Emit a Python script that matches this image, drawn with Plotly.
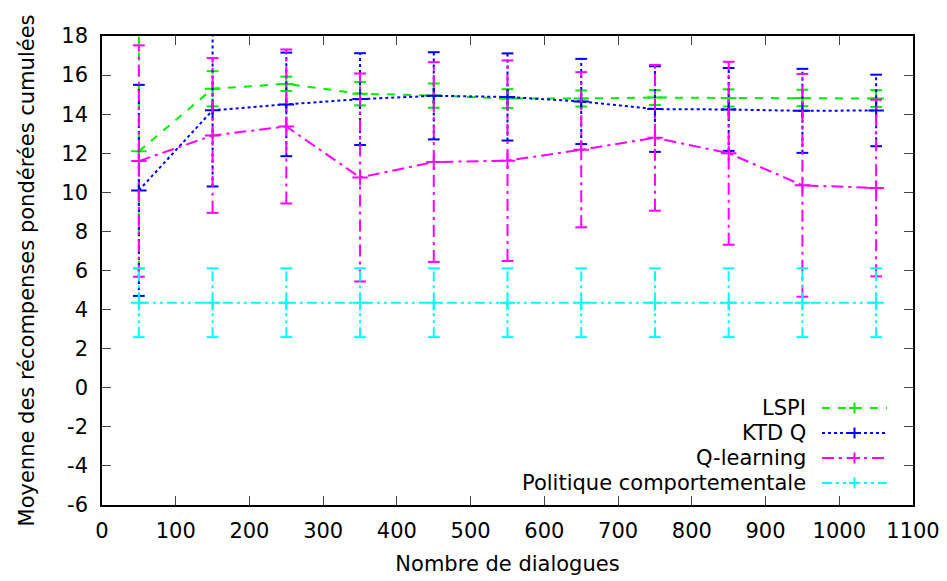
import plotly.graph_objects as go

# ---- data ----
x_dialogues = [50, 150, 250, 350, 450, 550, 650, 750, 850, 950, 1050]

lspi_mean = [12.1, 15.3, 15.55, 15.05, 14.95, 14.8, 14.8, 14.85, 14.83, 14.83, 14.8]
lspi_err = [6.0, 0.9, 0.37, 0.6, 0.62, 0.48, 0.41, 0.38, 0.44, 0.42, 0.43]

ktd_mean = [10.1, 14.2, 14.5, 14.77, 14.94, 14.88, 14.65, 14.26, 14.24, 14.17, 14.19]
ktd_err = [5.4, 3.9, 2.65, 2.35, 2.23, 2.23, 2.18, 2.19, 2.12, 2.15, 1.83]

ql_mean = [11.6, 12.91, 13.37, 10.76, 11.55, 11.62, 12.18, 12.79, 12.0, 10.36, 10.22]
ql_err = [5.92, 3.96, 3.94, 5.32, 5.11, 5.13, 3.97, 3.73, 4.68, 5.7, 4.52]

pol_mean = [4.35] * 11
pol_err = [1.76] * 11

series_names = ["LSPI", "KTD Q", "Q-learning", "Politique comportementale"]
series_means = [lspi_mean, ktd_mean, ql_mean, pol_mean]
series_errs = [lspi_err, ktd_err, ql_err, pol_err]
series_colors = ["#00ee00", "#0000ff", "#ff00ff", "#00ffff"]
series_dash = ["8px,8px", "3px,3px", "12px,5px,3px,5px", "10px,4px,3px,4px,3px,4px"]

x_ticks = list(range(0, 1101, 100))
x_tick_labels = [str(v) for v in x_ticks]
y_ticks = list(range(-6, 19, 2))
y_tick_labels = ["-6", "-4", "-2", "0", "2", "4", "6", "8", "10", "12", "14", "16", "18"]

FONT = "DejaVu Sans"
FS = 21
CAP = 8  # cap half-width in x units

fig = go.Figure()

for name, m, e, c, d in zip(series_names, series_means, series_errs, series_colors, series_dash):
    vx, vy, cx, cy = [], [], [], []
    for xi, mi, ei in zip(x_dialogues, m, e):
        lo, hi = mi - ei, mi + ei
        vx += [xi, xi, None]
        vy += [lo, hi, None]
        cx += [xi - CAP, xi + CAP, None, xi - CAP, xi + CAP, None]
        cy += [lo, lo, None, hi, hi, None]
    fig.add_trace(go.Scatter(x=vx, y=vy, mode="lines", line=dict(color=c, width=2, dash=d),
                             showlegend=False, hoverinfo="skip"))
    fig.add_trace(go.Scatter(x=cx, y=cy, mode="lines", line=dict(color=c, width=2),
                             showlegend=False, hoverinfo="skip"))
    fig.add_trace(go.Scatter(x=x_dialogues, y=m, mode="lines+markers", name=name,
                             line=dict(color=c, width=2, dash=d),
                             marker=dict(symbol="cross-thin", size=11,
                                         line=dict(color=c, width=2)),
                             showlegend=False))

# ---- manual legend (text left of sample, like gnuplot) ----
L, R, T, B = 102, 913, 36, 505
def px(xp):
    return (xp - L) / (R - L)
def py(yp):
    return (B - yp) / (B - T)

leg_rows = [408, 433, 458, 483]
shapes = []
annotations = []
for name, c, d, yr in zip(series_names, series_colors, series_dash, leg_rows):
    annotations.append(dict(x=px(808), y=py(yr), xref="paper", yref="paper", text=name,
                            showarrow=False, xanchor="right", yanchor="middle",
                            font=dict(family=FONT, size=FS, color="black")))
    shapes.append(dict(type="line", xref="paper", yref="paper", x0=px(822), x1=px(887),
                       y0=py(yr), y1=py(yr), line=dict(color=c, width=2, dash=d)))
    shapes.append(dict(type="line", xref="paper", yref="paper", x0=px(849), x1=px(860),
                       y0=py(yr), y1=py(yr), line=dict(color=c, width=2)))
    shapes.append(dict(type="line", xref="paper", yref="paper", x0=px(854.5), x1=px(854.5),
                       y0=py(yr - 5.5), y1=py(yr + 5.5), line=dict(color=c, width=2)))

axis_common = dict(showgrid=False, zeroline=False, showline=True, linecolor="black",
                   linewidth=1.5, mirror="allticks", ticks="inside", ticklen=9,
                   tickcolor="#444", tickwidth=1.2, automargin=False,
                   tickfont=dict(family=FONT, size=FS, color="black"))

fig.update_layout(
    width=947, height=581,
    margin=dict(l=L, r=947 - R, t=T, b=581 - B),
    paper_bgcolor="white", plot_bgcolor="white",
    font=dict(family=FONT, size=FS, color="black"),
    xaxis=dict(range=[0, 1100], tickmode="array", tickvals=x_ticks, ticktext=x_tick_labels,
               ticklabelstandoff=6,
               title=dict(text="Nombre de dialogues", font=dict(family=FONT, size=FS), standoff=14),
               **axis_common),
    yaxis=dict(range=[-6, 18], tickmode="array", tickvals=y_ticks, ticktext=y_tick_labels,
               ticklabelstandoff=8,
               title=dict(text="Moyenne des récompenses pondérées cumulées",
                          font=dict(family=FONT, size=FS), standoff=21),
               **axis_common),
    shapes=shapes,
    annotations=annotations,
    showlegend=False,
)

fig.write_html("out.html", config={"displayModeBar": False},
               post_script="document.body.style.margin='0';document.body.style.padding='0';")
